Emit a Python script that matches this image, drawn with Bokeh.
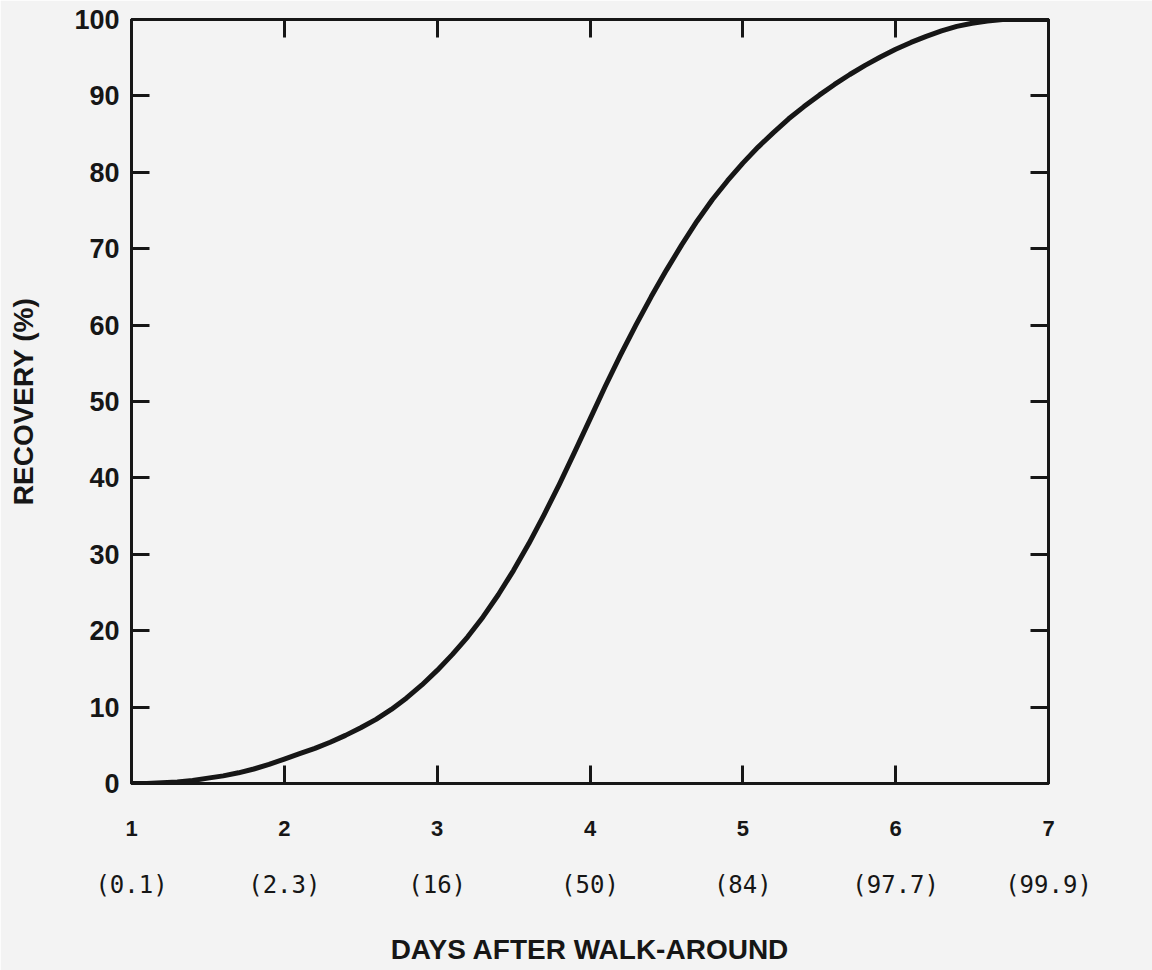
from bokeh.plotting import figure
from bokeh.models import LinearAxis, FixedTicker, Range1d
from bokeh.embed import file_html
from bokeh.resources import INLINE

# Data
days = [1.0, 1.1, 1.2, 1.3, 1.4, 1.5, 1.6, 1.7, 1.8, 1.9,
        2.0, 2.1, 2.2, 2.3, 2.4, 2.5, 2.6, 2.7, 2.8, 2.9,
        3.0, 3.1, 3.2, 3.3, 3.4, 3.5, 3.6, 3.7, 3.8, 3.9,
        4.0, 4.1, 4.2, 4.3, 4.4, 4.5, 4.6, 4.7, 4.8, 4.9,
        5.0, 5.1, 5.2, 5.3, 5.4, 5.5, 5.6, 5.7, 5.8, 5.9,
        6.0, 6.1, 6.2, 6.3, 6.4, 6.5, 6.6, 6.7, 6.8, 6.9, 7.0]
recovery = [0.0, 0.0, 0.1, 0.2, 0.4, 0.7, 1.0, 1.4, 1.9, 2.5,
            3.2, 3.9, 4.6, 5.4, 6.3, 7.3, 8.4, 9.7, 11.2, 12.9,
            14.8, 16.9, 19.2, 21.8, 24.7, 27.9, 31.4, 35.2, 39.2, 43.4,
            47.7, 52.0, 56.1, 60.0, 63.7, 67.2, 70.5, 73.6, 76.4, 78.9,
            81.2, 83.3, 85.2, 87.0, 88.6, 90.1, 91.5, 92.8, 94.0, 95.1,
            96.1, 97.0, 97.8, 98.5, 99.1, 99.5, 99.8, 100.0, 100.0, 100.0, 100.0]

x_ticks = [1, 2, 3, 4, 5, 6, 7]
pct_labels = ["(0.1)", "(2.3)", "(16)", "(50)", "(84)", "(97.7)", "(99.9)"]
y_ticks = [0, 10, 20, 30, 40, 50, 60, 70, 80, 90, 100]

BG = "#f3f3f3"
INK = "#161616"
BOLD_FONT = "Liberation Sans"
MONO_FONT = "DejaVu Sans Mono"

p = figure(width=1152, height=970,
           x_range=Range1d(1, 7), y_range=Range1d(0, 100),
           output_backend="svg", toolbar_location=None,
           x_axis_location=None, y_axis_location=None,
           min_border_left=131, min_border_right=104,
           min_border_top=19, min_border_bottom=187)
p.background_fill_color = BG
p.border_fill_color = BG
p.outline_line_color = INK
p.outline_line_width = 3
p.grid.visible = False

def style_ticks(ax, ticks):
    ax.ticker = FixedTicker(ticks=ticks)
    ax.major_tick_in = 18
    ax.major_tick_out = 0
    ax.minor_tick_line_color = None
    ax.major_tick_line_width = 3
    ax.major_tick_line_color = INK
    ax.axis_line_width = 3
    ax.axis_line_color = INK

# bottom axis: day numbers
xb = LinearAxis()
style_ticks(xb, x_ticks)
xb.major_label_text_font = BOLD_FONT
xb.major_label_text_font_style = "bold"
xb.major_label_text_font_size = "22px"
xb.major_label_text_color = INK
xb.major_label_standoff = 37
p.add_layout(xb, "below")

# second bottom axis: percentages + title
xb2 = LinearAxis()
xb2.ticker = FixedTicker(ticks=x_ticks)
xb2.major_label_overrides = {t: lab for t, lab in zip(x_ticks, pct_labels)}
xb2.axis_line_color = None
xb2.major_tick_line_color = None
xb2.minor_tick_line_color = None
xb2.major_tick_in = 0
xb2.major_tick_out = 0
xb2.major_label_text_font = MONO_FONT
xb2.major_label_text_font_size = "24px"
xb2.major_label_text_color = INK
xb2.major_label_standoff = 32
xb2.axis_label = "DAYS AFTER WALK-AROUND"
xb2.axis_label_text_font = BOLD_FONT
xb2.axis_label_text_font_style = "bold"
xb2.axis_label_text_font_size = "28px"
xb2.axis_label_text_color = INK
xb2.axis_label_standoff = 32
p.add_layout(xb2, "below")

# left axis
yl = LinearAxis()
style_ticks(yl, y_ticks)
yl.major_label_text_font = BOLD_FONT
yl.major_label_text_font_style = "bold"
yl.major_label_text_font_size = "27px"
yl.major_label_text_color = INK
yl.major_label_standoff = 12
yl.axis_label = "RECOVERY (%)"
yl.axis_label_text_font = BOLD_FONT
yl.axis_label_text_font_style = "bold"
yl.axis_label_text_font_size = "28px"
yl.axis_label_text_color = INK
yl.axis_label_standoff = 32
p.add_layout(yl, "left")

# top and right: inside ticks only, no labels
xt = LinearAxis()
style_ticks(xt, x_ticks)
xt.major_label_overrides = {t: "" for t in x_ticks}
xt.major_label_standoff = 0
p.add_layout(xt, "above")

yr = LinearAxis()
style_ticks(yr, y_ticks)
yr.major_label_overrides = {t: "" for t in y_ticks}
yr.major_label_standoff = 0
p.add_layout(yr, "right")

p.line(days, recovery, line_width=5, line_color=INK, line_join="round", line_cap="round")

open("out.html", "w").write(file_html(p, INLINE))
